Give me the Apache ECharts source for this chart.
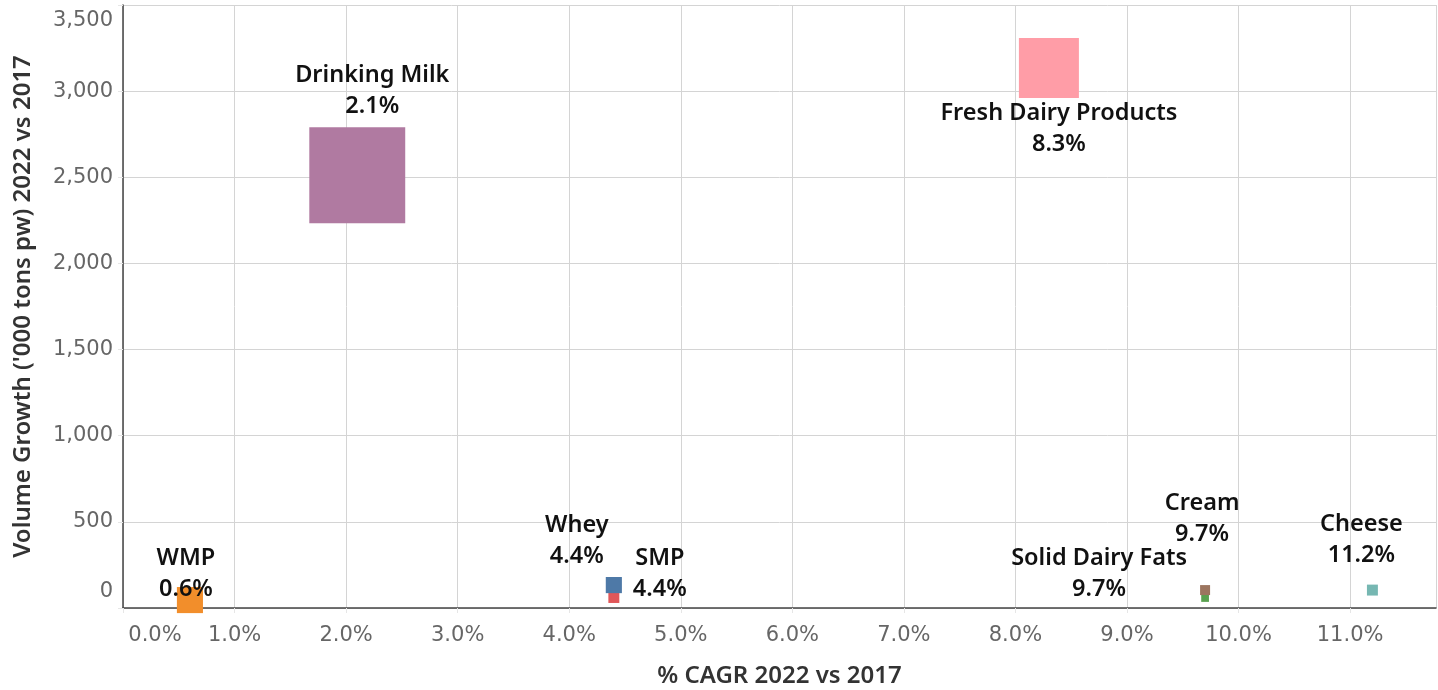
<!DOCTYPE html>
<html>
<head>
<meta charset="utf-8">
<script src="https://cdn.jsdelivr.net/npm/echarts@6/dist/echarts.min.js"></script>
<style>
  html, body { margin: 0; padding: 0; background: #fff; }
  #chart-container { width: 1438px; height: 690px; }
</style>
</head>
<body>
<div id="chart-container"></div>
<script>
// Data
var categories = ["Solid Dairy Fats", "Cream", "Cheese", "SMP", "Whey", "WMP", "Fresh Dairy Products", "Drinking Milk"];
var cagr = [9.7, 9.7, 11.2, 4.4, 4.4, 0.6, 8.3, 2.1];          // % CAGR 2022 vs 2017
var volumeGrowth = [58, 104, 104, 61, 133, 46, 3135, 2512];     // '000 tons pw
var markSize = [0.6, 1.0, 1.2, 1.2, 2.6, 6.8, 36, 92];          // size measure (relative)

var colors = ["#59a14f", "#9c755f", "#76b7b2", "#e15759", "#4e79a7", "#f28e2b", "#ff9da7", "#b07aa1"];
// label centre relative to the mark centre (px)
var labelOffsets = [[-106, -24], [-3, -71], [-11, -50], [46, -24], [-37, -44], [-4, -26], [10, 61], [15, -84]];

var chartDom = document.getElementById("chart-container");
var myChart = echarts.init(chartDom);

var font = "Noto Sans";
var tickFont = "DejaVu Sans";
var tickStyle = { fontFamily: tickFont, fontSize: 21, color: "#666" };

var points = categories.map(function (name, i) {
  return {
    name: name,
    value: [cagr[i], volumeGrowth[i], markSize[i]],
    itemStyle: { color: colors[i], opacity: 1 },
    label: { offset: labelOffsets[i] },
  };
});

var option = {
  animation: false,
  grid: { left: 123, right: 2, top: 5, bottom: 82, containLabel: false, outerBoundsMode: "none" },
  xAxis: {
    type: "value",
    min: 0,
    max: 11.77,
    interval: 1,
    name: "% CAGR 2022 vs 2017",
    nameLocation: "middle",
    nameGap: 56,
    nameTextStyle: { fontFamily: font, fontSize: 24, fontWeight: 600, color: "#333" },
    axisLine: { show: true, onZero: false, lineStyle: { color: "#444", width: 1.5 } },
    axisTick: { show: true, length: 5, lineStyle: { color: "#e6e6e6" } },
    splitLine: { show: true, lineStyle: { color: "#d4d4d4", width: 1 } },
    axisLabel: {
      margin: 17,
      showMaxLabel: false,
      formatter: function (v) {
        var s = v.toFixed(1) + "%";
        return v === 0 ? "{first|" + s + "}" : "{t|" + s + "}";
      },
      rich: {
        t: tickStyle,
        first: Object.assign({ padding: [0, 0, 0, 64] }, tickStyle),
      },
    },
  },
  yAxis: {
    type: "value",
    min: 0,
    max: 3500,
    interval: 500,
    name: "Volume Growth ('000 tons pw) 2022 vs 2017",
    nameLocation: "middle",
    nameGap: 88,
    nameTextStyle: { fontFamily: font, fontSize: 24, fontWeight: 600, color: "#333" },
    axisLine: { show: true, lineStyle: { color: "#444", width: 1.5 } },
    axisTick: { show: true, length: 5, lineStyle: { color: "#e6e6e6" } },
    splitLine: { show: true, lineStyle: { color: "#d4d4d4", width: 1 } },
    axisLabel: {
      margin: 10,
      formatter: function (v) {
        var s = v.toLocaleString("en-US");
        if (v === 0) return "{bottom|" + s + "}";
        if (v === 3500) return "{top|" + s + "}";
        return "{t|" + s + "}";
      },
      rich: {
        t: tickStyle,
        top: Object.assign({ padding: [32, 0, 0, 0] }, tickStyle),
        bottom: Object.assign({ padding: [0, 0, 32, 0] }, tickStyle),
      },
    },
  },
  series: [
    {
      type: "scatter",
      symbol: "rect",
      symbolSize: function (val) { return Math.sqrt(val[2]) * 10; },
      data: points,
      label: {
        show: true,
        position: "inside",
        formatter: function (p) { return "{n|" + p.name + "}\n{v|" + p.value[0].toFixed(1) + "%}"; },
        rich: {
          n: { fontFamily: font, fontSize: 23.5, fontWeight: 600, color: "#111", lineHeight: 31, align: "center" },
          v: { fontFamily: font, fontSize: 23.5, fontWeight: 600, color: "#111", lineHeight: 31, align: "center" },
        },
      },
      emphasis: { disabled: true },
      z: 3,
    },
  ],
};

option && myChart.setOption(option);

window.addEventListener("resize", function () {
  myChart.resize();
});
</script>
</body>
</html>
